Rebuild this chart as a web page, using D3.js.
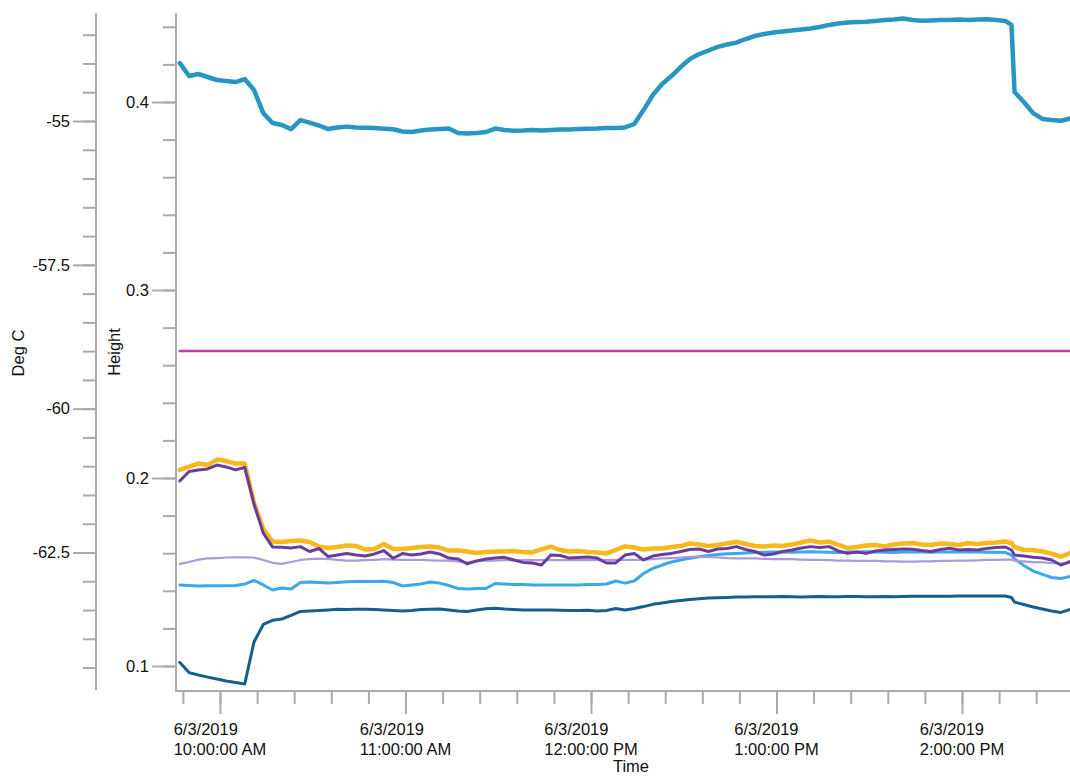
<!DOCTYPE html>
<html>
<head>
<meta charset="utf-8">
<script src="https://cdn.jsdelivr.net/npm/d3@7"></script>
<style>
  html, body { margin: 0; padding: 0; background: #fff; }
  svg { display: block; }
  text { font-family: "Liberation Sans", Arial, Helvetica, sans-serif; fill: #111; }
</style>
</head>
<body>
<svg id="chart" width="1070" height="776"></svg>
<script>
// ---------------- DATA ----------------
const day = "2019-06-03";
const times = [
  "09:47","09:50","09:53","09:56","09:59","10:02","10:05","10:08","10:11","10:14",
  "10:17","10:20","10:23","10:26","10:29","10:32","10:35","10:38","10:41","10:44",
  "10:47","10:50","10:53","10:56","10:59","11:02","11:05","11:08","11:11","11:14",
  "11:17","11:20","11:23","11:26","11:29","11:32","11:35","11:38","11:41","11:44",
  "11:47","11:50","11:53","11:56","11:59","12:02","12:05","12:08","12:11","12:14",
  "12:17","12:20","12:23","12:26","12:29","12:32","12:35","12:38","12:41","12:44",
  "12:47","12:50","12:53","12:56","12:59","13:02","13:05","13:08","13:11","13:14",
  "13:17","13:20","13:23","13:26","13:29","13:32","13:35","13:38","13:41","13:44",
  "13:47","13:50","13:53","13:56","13:59","14:02","14:05","14:08","14:11","14:14",
  "14:16",
  "14:17","14:20","14:23","14:26","14:29","14:32","14:35"
];

const tealSeries = [
  0.4207,0.4138,0.4149,0.4133,0.4117,0.4112,0.4106,0.4122,0.4064,0.3941,
  0.3888,0.3878,0.3856,0.3904,0.3890,0.3875,0.3856,0.3864,0.3869,0.3864,
  0.3863,0.3862,0.3858,0.3855,0.3843,0.3840,0.3848,0.3854,0.3856,0.3859,
  0.3835,0.3832,0.3835,0.3840,0.3859,0.3851,0.3847,0.3848,0.3851,0.3848,
  0.3851,0.3854,0.3854,0.3857,0.3858,0.3859,0.3862,0.3862,0.3865,0.3883,
  0.3957,0.4037,0.4096,0.4138,0.4186,0.4229,0.4255,0.4274,0.4293,0.4306,
  0.4316,0.4335,0.4351,0.4362,0.4370,0.4375,0.4380,0.4386,0.4391,0.4399,
  0.4410,0.4418,0.4423,0.4426,0.4427,0.4431,0.4436,0.4439,0.4444,0.4436,
  0.4432,0.4434,0.4436,0.4436,0.4439,0.4436,0.4439,0.4440,0.4436,0.4431,
  0.4410,
  0.4053,0.4000,0.3941,0.3910,0.3904,0.3900,0.3912
];

const magentaLevel = 0.2676;

const darkBlueSeries = [
  0.1019,0.0965,0.0952,0.0941,0.0931,0.0920,0.0912,0.0904,0.1128,0.1221,
  0.1243,0.1250,0.1269,0.1290,0.1293,0.1295,0.1298,0.1302,0.1301,0.1302,
  0.1302,0.1301,0.1298,0.1295,0.1293,0.1295,0.1301,0.1302,0.1303,0.1298,
  0.1293,0.1290,0.1298,0.1305,0.1307,0.1303,0.1301,0.1298,0.1298,0.1298,
  0.1298,0.1296,0.1295,0.1295,0.1296,0.1293,0.1295,0.1306,0.1298,0.1306,
  0.1316,0.1328,0.1335,0.1343,0.1349,0.1354,0.1358,0.1362,0.1363,0.1365,
  0.1367,0.1367,0.1368,0.1369,0.1369,0.1370,0.1369,0.1367,0.1369,0.1370,
  0.1369,0.1369,0.1370,0.1370,0.1369,0.1369,0.1370,0.1369,0.1370,0.1371,
  0.1371,0.1371,0.1371,0.1371,0.1372,0.1372,0.1372,0.1372,0.1372,0.1372,
  0.1364,
  0.1340,0.1327,0.1314,0.1303,0.1293,0.1285,0.1301
];

const lightBlueSeries = [
  0.1431,0.1428,0.1426,0.1427,0.1427,0.1427,0.1428,0.1436,0.1455,0.1431,
  0.1404,0.1415,0.1410,0.1444,0.1447,0.1444,0.1441,0.1444,0.1448,0.1449,
  0.1449,0.1449,0.1451,0.1444,0.1426,0.1431,0.1436,0.1447,0.1441,0.1428,
  0.1412,0.1410,0.1412,0.1412,0.1439,0.1436,0.1434,0.1434,0.1431,0.1431,
  0.1431,0.1431,0.1431,0.1431,0.1434,0.1434,0.1436,0.1452,0.1441,0.1452,
  0.1492,0.1519,0.1537,0.1553,0.1564,0.1573,0.1581,0.1588,0.1593,0.1597,
  0.1599,0.1601,0.1604,0.1605,0.1606,0.1606,0.1605,0.1607,0.1608,0.1606,
  0.1605,0.1604,0.1606,0.1607,0.1608,0.1607,0.1605,0.1604,0.1606,0.1607,
  0.1606,0.1605,0.1606,0.1607,0.1608,0.1607,0.1606,0.1605,0.1605,0.1604,
  0.1590,
  0.1569,0.1535,0.1505,0.1487,0.1471,0.1465,0.1476
];

const lavenderSeries = [
  0.1543,0.1553,0.1566,0.1572,0.1574,0.1577,0.1578,0.1578,0.1577,0.1564,
  0.1549,0.1543,0.1553,0.1564,0.1569,0.1571,0.1569,0.1564,0.1561,0.1560,
  0.1563,0.1565,0.1568,0.1566,0.1564,0.1564,0.1564,0.1562,0.1561,0.1560,
  0.1556,0.1551,0.1559,0.1561,0.1561,0.1563,0.1563,0.1563,0.1563,0.1563,
  0.1563,0.1563,0.1563,0.1563,0.1563,0.1563,0.1563,0.1564,0.1564,0.1564,
  0.1566,0.1569,0.1572,0.1574,0.1577,0.1580,0.1581,0.1580,0.1577,0.1574,
  0.1573,0.1573,0.1572,0.1570,0.1569,0.1568,0.1568,0.1566,0.1565,0.1564,
  0.1563,0.1561,0.1560,0.1559,0.1559,0.1559,0.1557,0.1556,0.1555,0.1555,
  0.1556,0.1557,0.1559,0.1559,0.1560,0.1561,0.1562,0.1564,0.1565,0.1566,
  0.1566,
  0.1561,0.1556,0.1553,0.1551,0.1548,0.1545,0.1548
];

const yellowSeries = [
  0.2043,0.2061,0.2077,0.2069,0.2098,0.2090,0.2077,0.2077,0.1867,0.1729,
  0.1662,0.1660,0.1665,0.1668,0.1660,0.1636,0.1628,0.1633,0.1641,0.1638,
  0.1620,0.1622,0.1649,0.1622,0.1622,0.1628,0.1633,0.1636,0.1630,0.1614,
  0.1614,0.1609,0.1601,0.1606,0.1609,0.1609,0.1612,0.1606,0.1604,0.1620,
  0.1635,0.1617,0.1609,0.1612,0.1606,0.1604,0.1599,0.1617,0.1636,0.1630,
  0.1620,0.1625,0.1625,0.1633,0.1638,0.1652,0.1646,0.1638,0.1644,0.1652,
  0.1661,0.1649,0.1638,0.1636,0.1641,0.1638,0.1646,0.1657,0.1668,0.1657,
  0.1662,0.1644,0.1628,0.1633,0.1641,0.1644,0.1636,0.1646,0.1652,0.1654,
  0.1646,0.1644,0.1652,0.1649,0.1644,0.1653,0.1649,0.1654,0.1657,0.1662,
  0.1654,
  0.1633,0.1617,0.1617,0.1609,0.1598,0.1582,0.1601
];

const purpleSeries = [
  0.1984,0.2035,0.2043,0.2048,0.2069,0.2059,0.2043,0.2056,0.1862,0.1707,
  0.1633,0.1631,0.1628,0.1635,0.1609,0.1625,0.1582,0.1590,0.1598,0.1590,
  0.1585,0.1596,0.1614,0.1573,0.1598,0.1590,0.1596,0.1606,0.1596,0.1574,
  0.1569,0.1543,0.1559,0.1569,0.1574,0.1578,0.1564,0.1551,0.1548,0.1537,
  0.1590,0.1588,0.1574,0.1577,0.1580,0.1574,0.1548,0.1548,0.1590,0.1598,
  0.1564,0.1585,0.1593,0.1599,0.1609,0.1620,0.1622,0.1609,0.1622,0.1625,
  0.1635,0.1620,0.1609,0.1590,0.1596,0.1609,0.1617,0.1628,0.1635,0.1630,
  0.1635,0.1612,0.1599,0.1606,0.1599,0.1612,0.1617,0.1620,0.1622,0.1621,
  0.1614,0.1609,0.1620,0.1626,0.1617,0.1620,0.1617,0.1625,0.1630,0.1633,
  0.1617,
  0.1590,0.1585,0.1578,0.1574,0.1564,0.1537,0.1556
];

// tick labels
const degMajorTicks = [-62.5, -60, -57.5, -55];
const heightMajorTicks = [0.1, 0.2, 0.3, 0.4];
const hourTicks = ["10:00", "11:00", "12:00", "13:00", "14:00"];

// ---------------- CHART ----------------
const parse = d3.timeParse("%Y-%m-%d %H:%M");
const T = s => parse(day + " " + s);

const svg = d3.select("#chart");
const axisColor = "#aaaaaa";

const x = d3.scaleTime().domain([T("10:00"), T("14:00")]).range([220, 962]);
const yH = d3.scaleLinear().domain([0.1, 0.4]).range([666, 102]);
const yD = d3.scaleLinear().domain([-62.5, -55]).range([552.5, 121]);

const degMinor = d3.range(-64.5, -53.49, 0.5);
const heightMinor = d3.range(0.10, 0.4401, 0.02);
const xMinor = d3.timeMinute.every(12).range(T("09:48"), T("14:37"));

function styleAxis(g) {
  g.select(".domain").remove();
  g.selectAll(".tick line").attr("stroke", axisColor).attr("stroke-width", 2);
  g.selectAll(".tick text").attr("font-size", "16.5px").attr("fill", "#111")
    .attr("font-family", '"Liberation Sans", Arial, sans-serif');
}

// Deg C axis
svg.append("line").attr("x1", 96).attr("x2", 96).attr("y1", 13).attr("y2", 690)
  .attr("stroke", axisColor).attr("stroke-width", 2);
svg.append("g").attr("transform", "translate(96,0)")
  .call(d3.axisLeft(yD).tickValues(degMinor).tickSize(13).tickFormat(""))
  .call(styleAxis);
svg.append("g").attr("transform", "translate(96,0)")
  .call(d3.axisLeft(yD).tickValues(degMajorTicks).tickSize(23).tickPadding(3)
    .tickFormat(d => String(d)))
  .call(styleAxis);

// Height axis
svg.append("line").attr("x1", 176).attr("x2", 176).attr("y1", 13).attr("y2", 690)
  .attr("stroke", axisColor).attr("stroke-width", 2);
svg.append("g").attr("transform", "translate(176,0)")
  .call(d3.axisLeft(yH).tickValues(heightMinor).tickSize(13).tickFormat(""))
  .call(styleAxis);
svg.append("g").attr("transform", "translate(176,0)")
  .call(d3.axisLeft(yH).tickValues(heightMajorTicks).tickSize(24).tickPadding(3)
    .tickFormat(d3.format(".1f")))
  .call(styleAxis);

// X axis
svg.append("line").attr("x1", 175).attr("x2", 1070).attr("y1", 691).attr("y2", 691)
  .attr("stroke", axisColor).attr("stroke-width", 2);
svg.append("g").attr("transform", "translate(0,691)")
  .call(d3.axisBottom(x).tickValues(xMinor).tickSize(13).tickFormat(""))
  .call(styleAxis);
const hourDates = hourTicks.map(T);
svg.append("g").attr("transform", "translate(0,691)")
  .call(d3.axisBottom(x).tickValues(hourDates).tickSize(23).tickFormat(""))
  .call(styleAxis);

const fmtDate = d3.timeFormat("%-m/%-d/%Y");
const fmtTime = d3.timeFormat("%-I:%M:%S %p");
hourDates.forEach(d => {
  const t = svg.append("text").attr("font-size", "16.5px").attr("text-anchor", "start");
  const a = t.append("tspan").attr("y", 735).text(fmtDate(d));
  const b = t.append("tspan").attr("y", 755).text(fmtTime(d));
  const w = Math.max(a.node().getComputedTextLength(), b.node().getComputedTextLength());
  const x0 = x(d) - w / 2;
  a.attr("x", x0); b.attr("x", x0);
});

// Axis titles
svg.append("text").attr("font-size", "16.5px").attr("text-anchor", "middle")
  .attr("transform", "translate(24,353) rotate(-90)").text("Deg C");
svg.append("text").attr("font-size", "16.5px").attr("text-anchor", "middle")
  .attr("transform", "translate(120,352) rotate(-90)").text("Height");
svg.append("text").attr("font-size", "16.5px").attr("text-anchor", "middle")
  .attr("x", 631).attr("y", 772).text("Time");

// Lines
const line = d3.line().x(d => x(d.t)).y(d => yH(d.v));
const toPts = arr => arr.map((v, i) => ({ t: T(times[i]), v }));

const series = [
  { data: tealSeries, color: "#2796c3", width: 4.5 },
  { data: times.map(() => magentaLevel), color: "#c33aa6", width: 2.5 },
  { data: darkBlueSeries, color: "#155f8e", width: 3 },
  { data: lightBlueSeries, color: "#3aa8ea", width: 3 },
  { data: lavenderSeries, color: "#a89bd8", width: 2.2 },
  { data: yellowSeries, color: "#f6b81a", width: 4.5 },
  { data: purpleSeries, color: "#6a3c9f", width: 3 }
];

svg.append("g").selectAll("path").data(series).join("path")
  .attr("d", s => line(toPts(s.data)))
  .attr("fill", "none")
  .attr("stroke", s => s.color)
  .attr("stroke-width", s => s.width)
  .attr("stroke-linejoin", "round")
  .attr("stroke-linecap", "round");
</script>
</body>
</html>
